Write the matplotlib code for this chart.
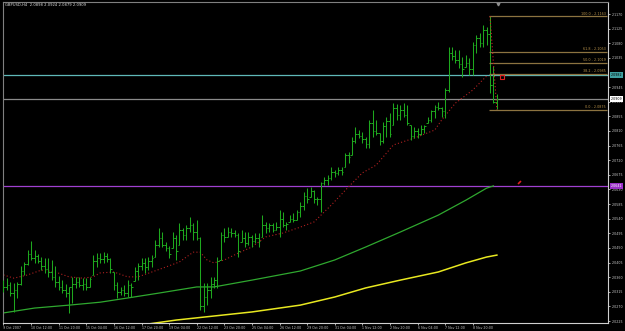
"""
GBPUSD H4 - grafico estilo MetaTrader (barras OHLC, medias moviles, Fibonacci)
"""

import numpy as np
import matplotlib.pyplot as plt

# ─────────────────────────────────────────────
# Datos
# ─────────────────────────────────────────────
highs = [2.0351, 2.0357, 2.0345, 2.0342, 2.0345, 2.0394, 2.0407, 2.0444, 2.0471, 2.0444,
         2.0431, 2.0422, 2.0419, 2.0419, 2.0413, 2.0394, 2.0364, 2.0351, 2.0339, 2.0330,
         2.0361, 2.0361, 2.0361, 2.0357, 2.0357, 2.0361, 2.0428, 2.0434, 2.0434, 2.0437,
         2.0434, 2.0419, 2.0376, 2.0345, 2.0330, 2.0336, 2.0351, 2.0342, 2.0391, 2.0404,
         2.0419, 2.0419, 2.0422, 2.0428, 2.0474, 2.0511, 2.0499, 2.0468, 2.0456, 2.0499,
         2.0490, 2.0527, 2.0511, 2.0521, 2.0545, 2.0527, 2.0536, 2.0484, 2.0342, 2.0342,
         2.0361, 2.0361, 2.0422, 2.0499, 2.0511, 2.0514, 2.0511, 2.0505, 2.0496, 2.0505,
         2.0499, 2.0499, 2.0490, 2.0496, 2.0496, 2.0551, 2.0530, 2.0527, 2.0527, 2.0530,
         2.0567, 2.0561, 2.0530, 2.0551, 2.0557, 2.0567, 2.0591, 2.0622, 2.0634, 2.0638,
         2.0628, 2.0607, 2.0653, 2.0668, 2.0674, 2.0699, 2.0690, 2.0699, 2.0699, 2.0742,
         2.0745, 2.0791, 2.0822, 2.0813, 2.0807, 2.0791, 2.0844, 2.0875, 2.0844, 2.0804,
         2.0838, 2.0853, 2.0865, 2.0896, 2.0893, 2.0890, 2.0896, 2.0890, 2.0828, 2.0822,
         2.0819, 2.0828, 2.0828, 2.0853, 2.0875, 2.0890, 2.0899, 2.0884, 2.0942, 2.1068,
         2.1068, 2.1059, 2.1059, 2.1038, 2.1044, 2.1035, 2.1084, 2.1105, 2.1112, 2.1136,
         2.1130, 2.1163, 2.1010, 2.0924]
lows = [2.0314, 2.0321, 2.0302, 2.0253, 2.0296, 2.0336, 2.0367, 2.0397, 2.0413, 2.0404,
        2.0404, 2.0382, 2.0373, 2.0361, 2.0351, 2.0330, 2.0321, 2.0311, 2.0299, 2.0250,
        2.0281, 2.0327, 2.0330, 2.0321, 2.0321, 2.0330, 2.0367, 2.0391, 2.0404, 2.0404,
        2.0407, 2.0373, 2.0321, 2.0296, 2.0305, 2.0302, 2.0299, 2.0299, 2.0348, 2.0351,
        2.0382, 2.0373, 2.0382, 2.0391, 2.0422, 2.0453, 2.0453, 2.0441, 2.0419, 2.0450,
        2.0413, 2.0459, 2.0474, 2.0474, 2.0499, 2.0474, 2.0474, 2.0259, 2.0253, 2.0274,
        2.0296, 2.0327, 2.0327, 2.0413, 2.0468, 2.0484, 2.0484, 2.0484, 2.0422, 2.0468,
        2.0453, 2.0459, 2.0453, 2.0465, 2.0453, 2.0484, 2.0496, 2.0499, 2.0499, 2.0505,
        2.0484, 2.0514, 2.0505, 2.0530, 2.0530, 2.0536, 2.0545, 2.0567, 2.0588, 2.0607,
        2.0588, 2.0582, 2.0561, 2.0644, 2.0644, 2.0659, 2.0668, 2.0674, 2.0674, 2.0699,
        2.0711, 2.0736, 2.0773, 2.0788, 2.0773, 2.0758, 2.0758, 2.0791, 2.0798, 2.0767,
        2.0773, 2.0791, 2.0791, 2.0828, 2.0844, 2.0844, 2.0853, 2.0828, 2.0782, 2.0788,
        2.0788, 2.0798, 2.0804, 2.0835, 2.0838, 2.0850, 2.0875, 2.0853, 2.0850, 2.0930,
        2.1028, 2.1019, 2.1004, 2.0976, 2.1007, 2.0982, 2.0982, 2.1050, 2.1068, 2.1068,
        2.1075, 2.0927, 2.0896, 2.0879]
closes = [2.0330, 2.0335, 2.0310, 2.0320, 2.0340, 2.0380, 2.0400, 2.0430, 2.0420, 2.0425,
          2.0410, 2.0395, 2.0385, 2.0375, 2.0360, 2.0345, 2.0330, 2.0320, 2.0310, 2.0330,
          2.0340, 2.0345, 2.0335, 2.0340, 2.0330, 2.0355, 2.0410, 2.0420, 2.0415, 2.0425,
          2.0415, 2.0385, 2.0335, 2.0315, 2.0320, 2.0310, 2.0335, 2.0330, 2.0380, 2.0395,
          2.0405, 2.0390, 2.0410, 2.0420, 2.0460, 2.0480, 2.0460, 2.0450, 2.0430, 2.0480,
          2.0440, 2.0505, 2.0490, 2.0510, 2.0520, 2.0500, 2.0480, 2.0270, 2.0300, 2.0320,
          2.0340, 2.0350, 2.0410, 2.0490, 2.0485, 2.0500, 2.0495, 2.0490, 2.0440, 2.0480,
          2.0465, 2.0485, 2.0470, 2.0480, 2.0470, 2.0520, 2.0510, 2.0520, 2.0505, 2.0515,
          2.0540, 2.0520, 2.0525, 2.0540, 2.0535, 2.0560, 2.0580, 2.0610, 2.0600, 2.0625,
          2.0600, 2.0600, 2.0650, 2.0660, 2.0665, 2.0685, 2.0680, 2.0690, 2.0685, 2.0735,
          2.0730, 2.0780, 2.0800, 2.0795, 2.0785, 2.0770, 2.0835, 2.0810, 2.0805, 2.0780,
          2.0825, 2.0840, 2.0800, 2.0880, 2.0860, 2.0875, 2.0860, 2.0835, 2.0795, 2.0810,
          2.0800, 2.0815, 2.0825, 2.0845, 2.0870, 2.0885, 2.0880, 2.0870, 2.0935, 2.1050,
          2.1040, 2.1030, 2.1015, 2.1000, 2.1020, 2.1000, 2.1075, 2.1095, 2.1080, 2.1120,
          2.1110, 2.0950, 2.0898, 2.0909]
first_open = 2.0340

# Medias moviles (indice de barra, precio)
ma_red_idx = [0, 3, 7, 11, 15, 19, 23, 26, 28, 32, 36, 39, 43, 47, 51, 55, 57, 59, 61, 64,
              68, 72, 76, 81, 86, 90, 95, 100, 104, 108, 111, 113, 119, 125, 127, 131, 136, 140]
ma_red_val = [2.0367, 2.0357, 2.0367, 2.0382, 2.0376, 2.0361, 2.0357, 2.0361, 2.0373, 2.0376,
              2.0361, 2.0361, 2.0376, 2.0391, 2.0407, 2.0437, 2.0437, 2.0413, 2.0404, 2.0413,
              2.0434, 2.0453, 2.0484, 2.0496, 2.0514, 2.0530, 2.0582, 2.0638, 2.0681, 2.0705,
              2.0742, 2.0767, 2.0788, 2.0813, 2.0844, 2.0896, 2.0936, 2.0979]
ma_green_idx = [0, 9, 19, 28, 36, 45, 56, 61, 72, 86, 96, 105, 115, 126, 134, 140, 142]
ma_green_val = [2.0250, 2.0265, 2.0274, 2.0283, 2.0296, 2.0311, 2.0330, 2.0330, 2.0351, 2.0379,
                2.0413, 2.0453, 2.0499, 2.0551, 2.0597, 2.0634, 2.0641]
ma_yellow_idx = [40, 50, 72, 86, 96, 105, 115, 126, 134, 140, 143]
ma_yellow_val = [2.0213, 2.0228, 2.0253, 2.0274, 2.0299, 2.0327, 2.0351, 2.0376, 2.0404, 2.0422,
                 2.0428]

# Fibonacci
fib_levels = [100.0, 61.8, 50.0, 38.2, 0.0]
fib_high, fib_low = 2.1163, 2.0875
fib_start, fib_end = 141, 143

# Lineas horizontales
hline_prices = [2.0982, 2.0909, 2.0641]
hline_colors = ['#5fb8b8', '#8a8a8a', '#a040d0']
hline_boxtext = ['#000000', '#000000', '#ffffff']
hline_boxfc = ['#3fa0a0', '#ffffff', '#9a30c8']

time_labels = ['9 Oct 2007', '10 Oct 12:00', '11 Oct 20:00', '15 Oct 04:00', '16 Oct 12:00',
               '17 Oct 20:00', '19 Oct 04:00', '22 Oct 12:00', '23 Oct 20:00', '25 Oct 04:00',
               '26 Oct 12:00', '29 Oct 20:00', '31 Oct 04:00', '1 Nov 12:00', '2 Nov 20:00',
               '6 Nov 04:00', '7 Nov 12:00', '8 Nov 20:00']
# 2.0990 queda tapado por la caja cyan
price_ticks = [2.0225, 2.0270, 2.0315, 2.0360, 2.0405, 2.0450, 2.0495, 2.0540, 2.0585, 2.0630,
               2.0675, 2.0720, 2.0765, 2.0810, 2.0855, 2.0900, 2.0945, 2.1035, 2.1080,
               2.1125, 2.1170]

# objetos sueltos (marcas rojas)
red_marks_idx = [144.5, 149.4]
red_marks_val = [2.0976, 2.0653]

# ─────────────────────────────────────────────
# Plot
# ─────────────────────────────────────────────
fig = plt.figure(figsize=(6.25, 3.31), dpi=100, facecolor='black')
ax = fig.add_axes([3/625, 8/331, 605/625, 321/331], facecolor='black')

n = len(highs)
idx = np.arange(n)
opens = [first_open] + closes[:-1]
opens = np.clip(opens, lows, highs)

bar_c = '#1ea81e'
ax.vlines(idx, lows, highs, color=bar_c, lw=0.75, zorder=3)
ax.hlines(opens, idx - 0.45, idx, color=bar_c, lw=0.7, zorder=3)
ax.hlines(closes, idx, idx + 0.45, color=bar_c, lw=0.7, zorder=3)

ax.plot(ma_green_idx, ma_green_val, color='#2fa82f', lw=0.9, zorder=2)
ax.plot(ma_yellow_idx, ma_yellow_val, color='#e8e820', lw=1.1, zorder=2)
ax.plot(ma_red_idx, ma_red_val, color='#b02020', lw=0.8, ls=(0, (1, 2)), zorder=2)

for p, c in zip(hline_prices, hline_colors):
    ax.axhline(p, color=c, lw=0.9, zorder=1)

# Fibonacci
xmax = 175.2
for lv in fib_levels:
    pr = fib_low + (fib_high - fib_low) * lv / 100
    ax.hlines(pr, fib_start - 0.3, xmax - 0.4, color='#8c7340', lw=0.9, zorder=4)
    ax.text(xmax - 0.6, pr + 0.0002, f'{lv:.1f} - {pr:.4f}', color='#b8924a',
            fontsize=2.45, ha='right', va='bottom', zorder=5)
ax.plot([fib_start, fib_end], [fib_high, fib_low], color='#d02020', lw=0.8,
        ls=(0, (1, 2)), zorder=5)

ax.plot(red_marks_idx[0], red_marks_val[0], 's', ms=2.2, mfc='none', mec='#e02020',
        mew=0.8, zorder=5)
ax.plot(red_marks_idx[1], red_marks_val[1], marker=(2, 0, -45), ms=3, mec='#e02020',
        mew=1.2, zorder=5)
ax.plot(fib_end + 0.2, 2.1200, 'v', ms=2, color='#909090', clip_on=False)

# cajas de precio en el eje
for p, fc, tc in zip(hline_prices, hline_boxfc, hline_boxtext):
    ax.text(1.004, p, f'{p:.4f}', transform=ax.get_yaxis_transform(), fontsize=2.3,
            color=tc, va='center', ha='left', zorder=10,
            bbox=dict(fc=fc, ec='none', pad=0.5), clip_on=False)

ax.set_xlim(-0.14, xmax)
ax.set_ylim(2.0219, 2.1207)

ax.yaxis.tick_right()
ax.set_yticks(price_ticks)
ax.set_yticklabels([f'{t:.4f}' for t in price_ticks])
ax.set_xticks(np.arange(0, 8 * len(time_labels), 8))
ax.set_xticklabels(time_labels)
ax.tick_params(axis='both', colors='#c8c8c8', labelsize=2.3, length=1.5, width=0.6,
               pad=1)
plt.setp(ax.get_xticklabels(), ha='left')

for s in ['left', 'top']:
    ax.spines[s].set_color('#808080')
for s in ['right', 'bottom']:
    ax.spines[s].set_color('#d0d0d0')
for s in ax.spines.values():
    s.set_linewidth(0.8)

fig.text(5/625, 1 - 5/331, 'GBPUSD,H4  2.0898 2.0924 2.0879 2.0909', color='#e0e0e0',
         fontsize=2.7, va='center', ha='left')

plt.savefig('out.png', dpi=100, facecolor='black')
